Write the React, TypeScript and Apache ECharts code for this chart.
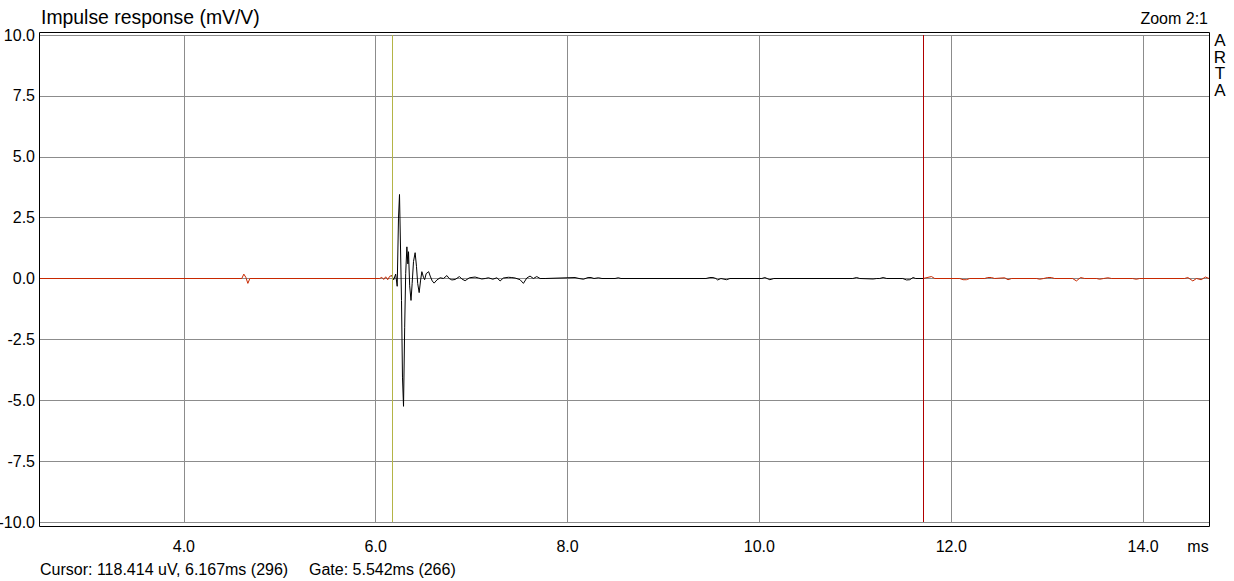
import React, { useEffect, useRef } from "react";
import * as echarts from "echarts";

// ---- Data (time in ms, amplitude in mV/V) ----
const preGateMs = [2.5, 4.604, 4.625, 4.646, 4.667, 4.688, 6.042, 6.063, 6.083, 6.104, 6.125, 6.146, 6.167];
const preGateMv = [0, 0, 0.18, 0.05, -0.2, 0, 0, 0.05, -0.04, 0.07, -0.05, 0.09, 0.12];

const gatedMs = [
  6.167, 6.1875, 6.208, 6.224, 6.2375, 6.248, 6.269, 6.279, 6.29, 6.302, 6.3125, 6.325, 6.335, 6.342,
  6.354, 6.368, 6.38, 6.394, 6.411, 6.425, 6.4375, 6.453, 6.467, 6.481, 6.498, 6.51, 6.526, 6.552,
  6.568, 6.589, 6.609, 6.638, 6.672, 6.706, 6.742, 6.766, 6.794, 6.828, 6.873, 6.898, 6.932, 6.977,
  7.036, 7.071, 7.106, 7.141, 7.175, 7.221, 7.263, 7.297, 7.331, 7.383, 7.419, 7.453, 7.505, 7.54,
  7.575, 7.609, 7.644, 7.679, 7.714, 7.766, 8.078, 8.12, 8.165, 8.214, 8.245, 8.276, 8.321, 8.359,
  8.495, 8.529, 8.557, 9.443, 9.484, 9.516, 9.547, 9.565, 9.599, 9.658, 9.693, 10.026, 10.057,
  10.109, 10.151, 10.974, 11.013, 11.047, 11.185, 11.224, 11.255, 11.29, 11.328, 11.495, 11.534,
  11.568, 11.602, 11.63, 11.706,
];
const gatedMv = [
  0.12, -0.05, 0.18, -0.32, 2.48, 3.45, -0.9, -4.05, -5.25, -2.0, 0.2, 1.3, 0.6, 1.1,
  -0.3, -0.9, -0.2, 0.7, 1.06, 0.5, -0.2, -0.58, -0.1, 0.28, 0.05, -0.05, 0.2, 0.28,
  0.1, -0.1, -0.19, -0.06, 0.03, 0.0, 0.12, 0.0, -0.06, -0.04, 0.08, -0.02, -0.09, 0.03,
  0.06, 0.02, -0.02, 0.0, 0.03, -0.03, 0.03, -0.1, 0.02, 0.05, 0.04, 0.02, -0.05, -0.2,
  0.02, 0.1, 0.0, 0.08, 0.0, 0.0, 0.04, 0, -0.03, 0.04, 0.04, 0, 0.03, 0,
  0, 0.03, 0, 0, 0.04, 0.04, 0, -0.06, 0, -0.05, 0, 0, 0.04,
  -0.05, 0, 0, 0.04, 0, -0.02, 0, 0, 0.04, 0, 0, -0.06,
  -0.05, 0.04, 0, 0,
];

const postGateMs = [
  11.706, 11.794, 11.828, 12.089, 12.123, 12.158, 12.193, 12.349, 12.38, 12.419, 12.453, 12.557,
  12.592, 12.63, 12.891, 12.922, 12.964, 13.005, 13.044, 13.078, 13.266, 13.305, 13.349, 13.391,
  13.516, 13.547, 13.589, 13.633, 13.672, 13.891, 13.929, 13.964, 14.432, 14.467, 14.519, 14.557,
  14.606, 14.651, 14.6875,
];
const postGateMv = [
  0, 0.08, 0, 0, -0.05, -0.05, 0, 0, 0.04, 0.04, 0, 0.03,
  -0.05, 0, 0, -0.03, 0, 0.04, 0.04, 0, 0, -0.1, 0.04, 0,
  0, -0.03, 0, 0.03, 0, 0, -0.03, 0, 0, 0.04, -0.1, 0,
  -0.05, 0.06, 0,
];

const xMinMs = 2.5;
const xMaxMs = 14.6875;
const xStepMs = 2;
const yMin = -10;
const yMax = 10;
const yStep = 2.5;
const cursorMs = 6.167;
const gateEndMs = 11.706;

const titleText = "Impulse response (mV/V)";
const zoomText = "Zoom 2:1";
const brandText = "A\nR\nT\nA";
const xUnitText = "ms";
const cursorText = "Cursor: 118.414 uV, 6.167ms (296)";
const gateText = "Gate: 5.542ms (266)";

const FONT = "'Liberation Sans', Arial, sans-serif";
const pairs = (t: number[], v: number[]) => t.map((x, i) => [x, v[i]]);

export default function App() {
  const ref = useRef<HTMLDivElement>(null);

  useEffect(() => {
    if (!ref.current) return;
    const chart = echarts.init(ref.current, undefined, { renderer: "svg" });
    const lineBase = { type: "line", showSymbol: false, symbol: "none", silent: true, z: 3 };
    chart.setOption({
      animation: false,
      backgroundColor: "#ffffff",
      grid: { left: 40, right: 25, top: 35, bottom: 59, outerBoundsMode: "none", containLabel: false },
      xAxis: {
        type: "value",
        min: xMinMs,
        max: xMaxMs,
        splitNumber: 6,
        minInterval: xStepMs,
        maxInterval: xStepMs,
        axisLine: { show: false },
        axisTick: { show: false },
        axisLabel: {
          show: true,
          margin: 16,
          color: "#000",
          fontSize: 16,
          fontFamily: FONT,
          showMinLabel: false,
          showMaxLabel: false,
          formatter: (v: number) => v.toFixed(1),
        },
        splitLine: { show: true, showMinLine: false, showMaxLine: false, lineStyle: { color: "#8c8c8c", width: 1 } },
      },
      yAxis: {
        type: "value",
        min: yMin,
        max: yMax,
        interval: yStep,
        axisLine: { show: false },
        axisTick: { show: false },
        axisLabel: {
          margin: 5,
          color: "#000",
          fontSize: 16,
          fontFamily: FONT,
          formatter: (v: number) => v.toFixed(1),
        },
        splitLine: { show: true, lineStyle: { color: "#8c8c8c", width: 1 } },
      },
      series: [
        { ...lineBase, data: pairs(preGateMs, preGateMv), lineStyle: { color: "#c82800", width: 1 } },
        {
          ...lineBase,
          z: 4,
          data: pairs(gatedMs, gatedMv),
          lineStyle: { color: "#000000", width: 1 },
          markLine: {
            silent: true,
            symbol: ["none", "none"],
            label: { show: false },
            animation: false,
            data: [
              { xAxis: cursorMs, lineStyle: { color: "#b4b446", width: 1, type: "solid" } },
              { xAxis: gateEndMs, lineStyle: { color: "#b00000", width: 1, type: "solid" } },
            ],
          },
        },
        { ...lineBase, data: pairs(postGateMs, postGateMv), lineStyle: { color: "#c82800", width: 1 } },
      ],
      graphic: [
        {
          type: "rect",
          z: 10,
          silent: true,
          shape: { x: 39.5, y: 32.5, width: 1170, height: 494 },
          style: { fill: "none", stroke: "#000", lineWidth: 1 },
        },
        {
          type: "text",
          x: 41,
          y: 17,
          style: { text: titleText, fill: "#000", font: `19.4px ${FONT}`, textAlign: "left", textVerticalAlign: "middle" },
        },
        {
          type: "text",
          x: 1208,
          y: 18,
          style: { text: zoomText, fill: "#000", font: `16px ${FONT}`, textAlign: "right", textVerticalAlign: "middle" },
        },
        {
          type: "text",
          x: 1220,
          y: 32,
          style: {
            text: brandText,
            fill: "#000",
            font: `17px ${FONT}`,
            lineHeight: 16.7,
            textAlign: "center",
            textVerticalAlign: "top",
          },
        },
        {
          type: "text",
          x: 1198,
          y: 546,
          style: { text: xUnitText, fill: "#000", font: `16px ${FONT}`, textAlign: "center", textVerticalAlign: "middle" },
        },
        {
          type: "text",
          x: 40,
          y: 569,
          style: { text: cursorText, fill: "#000", font: `16px ${FONT}`, textAlign: "left", textVerticalAlign: "middle" },
        },
        {
          type: "text",
          x: 309,
          y: 569,
          style: { text: gateText, fill: "#000", font: `16px ${FONT}`, textAlign: "left", textVerticalAlign: "middle" },
        },
      ],
    });
    return () => chart.dispose();
  }, []);

  return (
    <div
      ref={ref}
      style={{ position: "fixed", left: 0, top: 0, width: 1234, height: 581, background: "#fff" }}
    />
  );
}
